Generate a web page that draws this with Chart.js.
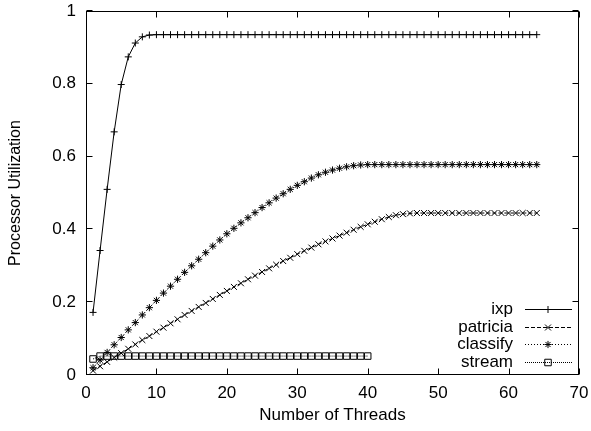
<!DOCTYPE html>
<html><head><meta charset="utf-8">
<script src="https://cdn.jsdelivr.net/npm/chart.js@4.4.0/dist/chart.umd.min.js"></script>
<style>html,body{margin:0;padding:0;background:#fff;overflow:hidden}canvas{display:block}</style>
</head><body>
<canvas id="c" width="591" height="431"></canvas>
<script>
const threads = [1,2,3,4,5,6,7,8,9,10,11,12,13,14,15,16,17,18,19,20,21,22,23,24,25,26,27,28,29,30,31,32,
  33,34,35,36,37,38,39,40,41,42,43,44,45,46,47,48,49,50,51,52,53,54,55,56,57,58,59,60,61,62,63,64];
const streamThreads = [1,2,3,4,5,6,7,8,9,10,11,12,13,14,15,16,17,18,19,20,21,22,23,24,25,26,27,28,29,30,
  31,32,33,34,35,36,37,38,39,40];
const ixp = [0.172,0.342,0.51,0.668,0.798,0.874,0.912,0.929,0.934,0.935,
  0.935,0.935,0.935,0.935,0.935,0.935,0.935,0.935,0.935,0.935,
  0.935,0.935,0.935,0.935,0.935,0.935,0.935,0.935,0.935,0.935,
  0.935,0.935,0.935,0.935,0.935,0.935,0.935,0.935,0.935,0.935,
  0.935,0.935,0.935,0.935,0.935,0.935,0.935,0.935,0.935,0.935,
  0.935,0.935,0.935,0.935,0.935,0.935,0.935,0.935,0.935,0.935,
  0.935,0.935,0.935,0.935];
const patricia = [0.012,0.024,0.036,0.048,0.06,0.072,0.084,0.096,0.107,0.119,
  0.13,0.142,0.153,0.165,0.176,0.187,0.198,0.209,0.22,0.231,
  0.242,0.252,0.263,0.273,0.283,0.293,0.303,0.313,0.322,0.332,
  0.341,0.35,0.359,0.367,0.375,0.383,0.391,0.399,0.407,0.414,
  0.421,0.428,0.434,0.439,0.442,0.444,0.445,0.445,0.445,0.445,
  0.445,0.445,0.445,0.445,0.445,0.445,0.445,0.445,0.445,0.445,
  0.445,0.445,0.445,0.445];
const classify = [0.02,0.041,0.062,0.083,0.103,0.124,0.144,0.165,0.185,0.205,
  0.225,0.244,0.263,0.282,0.3,0.318,0.336,0.354,0.371,0.388,
  0.403,0.418,0.432,0.446,0.46,0.473,0.486,0.498,0.51,0.521,
  0.531,0.541,0.55,0.557,0.563,0.568,0.572,0.575,0.577,0.578,
  0.578,0.578,0.578,0.578,0.578,0.578,0.578,0.578,0.578,0.578,
  0.578,0.578,0.578,0.578,0.578,0.578,0.578,0.578,0.578,0.578,
  0.578,0.578,0.578,0.578];
const stream = [0.044,0.052,0.052,0.052,0.052,0.052,0.052,0.052,0.052,0.052,
  0.052,0.052,0.052,0.052,0.052,0.052,0.052,0.052,0.052,0.052,
  0.052,0.052,0.052,0.052,0.052,0.052,0.052,0.052,0.052,0.052,
  0.052,0.052,0.052,0.052,0.052,0.052,0.052,0.052,0.052,0.052];
const xTicks = [0,10,20,30,40,50,60,70];
const yTicks = [0,0.2,0.4,0.6,0.8,1];

const FONT = 'Liberation Sans, Arial, Helvetica, sans-serif';
Chart.defaults.color = '#000';
Chart.defaults.font.family = FONT;

const pts = (xs, ys) => xs.map((x, i) => ({x: x, y: ys[i]}));

const frameTicks = {
  id: 'frameTicks',
  afterDatasetsDraw(chart) {
    const {ctx, chartArea: a, scales: {x, y}} = chart;
    ctx.save();
    ctx.strokeStyle = '#000';
    ctx.lineWidth = 1;
    ctx.setLineDash([]);
    const l = Math.round(a.left) + 0.5, t = Math.round(a.top) + 0.5;
    const r = Math.round(a.right) - 0.5, b = Math.round(a.bottom) - 0.5;
    ctx.strokeRect(l, t, r - l, b - t);
    const L = 6;
    ctx.beginPath();
    xTicks.forEach(v => {
      const p = Math.round(x.getPixelForValue(v)) + 0.5;
      ctx.moveTo(p, b); ctx.lineTo(p, b - L);
      ctx.moveTo(p, t); ctx.lineTo(p, t + L);
    });
    yTicks.forEach(v => {
      const p = Math.round(y.getPixelForValue(v)) - 0.5;
      ctx.moveTo(l, p); ctx.lineTo(l + L, p);
      ctx.moveTo(r, p); ctx.lineTo(r - L, p);
    });
    ctx.stroke();
    ctx.restore();
  }
};

const gnuLegend = {
  id: 'gnuLegend',
  afterDraw(chart) {
    const {ctx, chartArea: a} = chart;
    ctx.save();
    ctx.font = '17px ' + FONT;
    ctx.textAlign = 'right';
    ctx.textBaseline = 'middle';
    const textRight = 513, lx0 = 525, lx1 = 572, mx = 548;
    chart.data.datasets.forEach((ds, i) => {
      const yy = Math.round(a.bottom - 66 + i * 17.5) + 0.5;
      ctx.fillStyle = '#000';
      ctx.fillText(ds.label, textRight, yy);
      ctx.strokeStyle = '#000';
      ctx.lineWidth = 1;
      ctx.setLineDash(ds.borderDash || []);
      ctx.beginPath();
      ctx.moveTo(lx0, yy); ctx.lineTo(lx1, yy);
      ctx.stroke();
      ctx.setLineDash([]);
      ctx.fillStyle = 'rgba(0,0,0,0)';
      Chart.helpers.drawPoint(ctx, {pointStyle: ds.pointStyle, radius: ds.pointRadius, rotation: 0, borderWidth: 1}, mx, yy);
    });
    ctx.restore();
  }
};

const common = {borderColor: '#000', borderWidth: 1, pointBorderColor: '#000',
  pointBackgroundColor: 'rgba(0,0,0,0)', pointBorderWidth: 1, tension: 0, fill: false};

new Chart(document.getElementById('c'), {
  type: 'scatter',
  data: {
    datasets: [
      Object.assign({label: 'ixp', data: pts(threads, ixp), showLine: true, pointStyle: 'cross', pointRadius: 3.5}, common),
      Object.assign({label: 'patricia', data: pts(threads, patricia), showLine: true, pointStyle: 'crossRot', pointRadius: 4.2, borderDash: [4, 2]}, common),
      Object.assign({label: 'classify', data: pts(threads, classify), showLine: true, pointStyle: 'star', pointRadius: 3.6, borderDash: [1, 2]}, common),
      Object.assign({label: 'stream', data: pts(streamThreads, stream), showLine: true, pointStyle: 'rect', pointRadius: 4.6, borderDash: [1, 1]}, common)
    ]
  },
  options: {
    responsive: false,
    animation: false,
    events: [],
    layout: {padding: {top: 11, right: 12, left: 0, bottom: 0}},
    plugins: {legend: {display: false}, tooltip: {enabled: false}},
    scales: {
      x: {
        type: 'linear', min: 0, max: 70,
        grid: {display: false, drawTicks: false}, border: {display: false},
        afterBuildTicks: s => { s.ticks = xTicks.map(v => ({value: v})); },
        afterFit: s => { s.height = 56; s.paddingLeft = 0; s.paddingRight = 0; s.paddingTop = 0; s.paddingBottom = 0; },
        ticks: {padding: 8, maxRotation: 0, autoSkip: false, font: {size: 17}, color: '#000', callback: v => String(v)},
        title: {display: true, text: 'Number of Threads', font: {size: 17, lineHeight: 1.2}, color: '#000', padding: {top: 0, bottom: 5}}
      },
      y: {
        type: 'linear', min: 0, max: 1,
        grid: {display: false, drawTicks: false}, border: {display: false},
        afterBuildTicks: s => { s.ticks = yTicks.map(v => ({value: v})); },
        afterFit: s => { s.width = 86; s.paddingLeft = 0; s.paddingRight = 0; s.paddingTop = 0; s.paddingBottom = 0; },
        ticks: {padding: 10, autoSkip: false, font: {size: 17}, color: '#000', callback: v => String(v)},
        title: {display: true, text: 'Processor Utilization', font: {size: 16, lineHeight: 1.2}, color: '#000', padding: {top: 6, bottom: 0}}
      }
    }
  },
  plugins: [frameTicks, gnuLegend]
});
</script>
</body></html>
